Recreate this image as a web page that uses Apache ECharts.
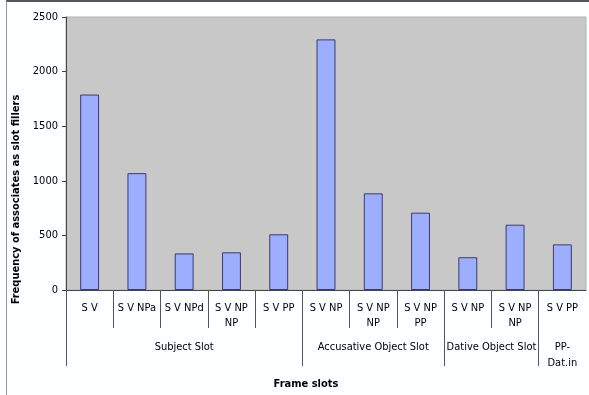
<!DOCTYPE html>
<html>
<head>
<meta charset="utf-8">
<script src="https://cdn.jsdelivr.net/npm/echarts@6/dist/echarts.min.js"></script>
<style>
  html, body { margin: 0; padding: 0; background: #fcffff; }
  #main { width: 589px; height: 395px; }
  #frame { position: absolute; left: 6px; top: 0; width: 600px; height: 400px;
           border-top: 2px solid #555; border-left: 1px solid #999; pointer-events: none; }
</style>
</head>
<body>
<div id="main"></div>
<div id="frame"></div>
<script>
  // frame labels (lower level) and counts
  var frames = ['S V', 'S V NPa', 'S V NPd', 'S V NP\nNP', 'S V PP',
                'S V NP', 'S V NP\nNP', 'S V NP\nPP',
                'S V NP', 'S V NP\nNP',
                'S V PP'];
  var counts = [1790, 1070, 335, 345, 510, 2295, 885, 708, 300, 598, 418];

  // slot groups (upper level)
  var groupNames = ['Subject Slot', 'Accusative Object Slot', 'Dative Object Slot', 'PP-\nDat.in'];
  var groupSizes = [5, 3, 2, 1];

  var yTicks = [0, 500, 1000, 1500, 2000, 2500];

  // group boundaries and centres on a 0..11 scale
  var bounds = [0], centres = [];
  groupSizes.forEach(function (n) {
    var start = bounds[bounds.length - 1];
    centres.push(start + n / 2);
    bounds.push(start + n);
  });
  // short separators between frames inside a group
  var inner = [];
  for (var i = 1; i < frames.length; i++) {
    if (bounds.indexOf(i) < 0) inner.push(i);
  }

  var font = 'DejaVu Sans Condensed';
  var myChart = echarts.init(document.getElementById('main'));

  var option = {
    backgroundColor: '#fcffff',
    animation: false,
    grid: {
      left: 66, right: 3, top: 17, bottom: 105,
      show: true, backgroundColor: '#c8c8c8', borderColor: '#b4b4b4', borderWidth: 1
    },
    xAxis: [
      {
        type: 'category',
        data: frames,
        name: 'Frame slots',
        nameLocation: 'middle',
        nameGap: 89,
        nameTextStyle: { fontFamily: font, fontWeight: 'bold', fontSize: 11, color: '#000', padding: [0, 40, 0, 0] },
        axisLine: { lineStyle: { color: '#444', width: 1 } },
        axisTick: { show: false },
        axisLabel: { interval: 0, margin: 11, fontFamily: font, fontSize: 11, color: '#000', lineHeight: 15 }
      },
      {
        type: 'value',
        min: 0, max: 11,
        position: 'bottom',
        axisLine: { show: false },
        splitLine: { show: false },
        axisTick: { show: true, customValues: bounds.slice(0, 4), length: 76, lineStyle: { color: '#555' } },
        axisLabel: {
          customValues: centres,
          margin: 49,
          fontFamily: font, fontSize: 11, color: '#000', lineHeight: 16,
          formatter: function (v) { return groupNames[centres.indexOf(v)]; }
        }
      },
      {
        type: 'value',
        min: 0, max: 11,
        position: 'bottom',
        axisLine: { show: false },
        splitLine: { show: false },
        axisTick: { show: true, customValues: inner, length: 38, lineStyle: { color: '#555' } },
        axisLabel: { show: false }
      }
    ],
    yAxis: {
      type: 'value',
      min: yTicks[0], max: yTicks[yTicks.length - 1], interval: 500,
      name: 'Frequency of associates as slot fillers',
      nameLocation: 'middle',
      nameGap: 44,
      nameTextStyle: { fontFamily: font, fontWeight: 'bold', fontSize: 11, color: '#000', padding: [0, 92, 0, 0] },
      axisLine: { show: true, lineStyle: { color: '#444' } },
      axisTick: { show: true, length: 4, lineStyle: { color: '#444' } },
      axisLabel: { fontFamily: font, fontSize: 11, color: '#000', margin: 8,
                   formatter: function (v) { return String(v); } },
      splitLine: { show: false }
    },
    series: [{
      type: 'bar',
      data: counts,
      barWidth: '40%',
      itemStyle: { color: '#9daeff', borderColor: '#3a3a6e', borderWidth: 1 }
    }]
  };
  myChart.setOption(option);
</script>
</body>
</html>
